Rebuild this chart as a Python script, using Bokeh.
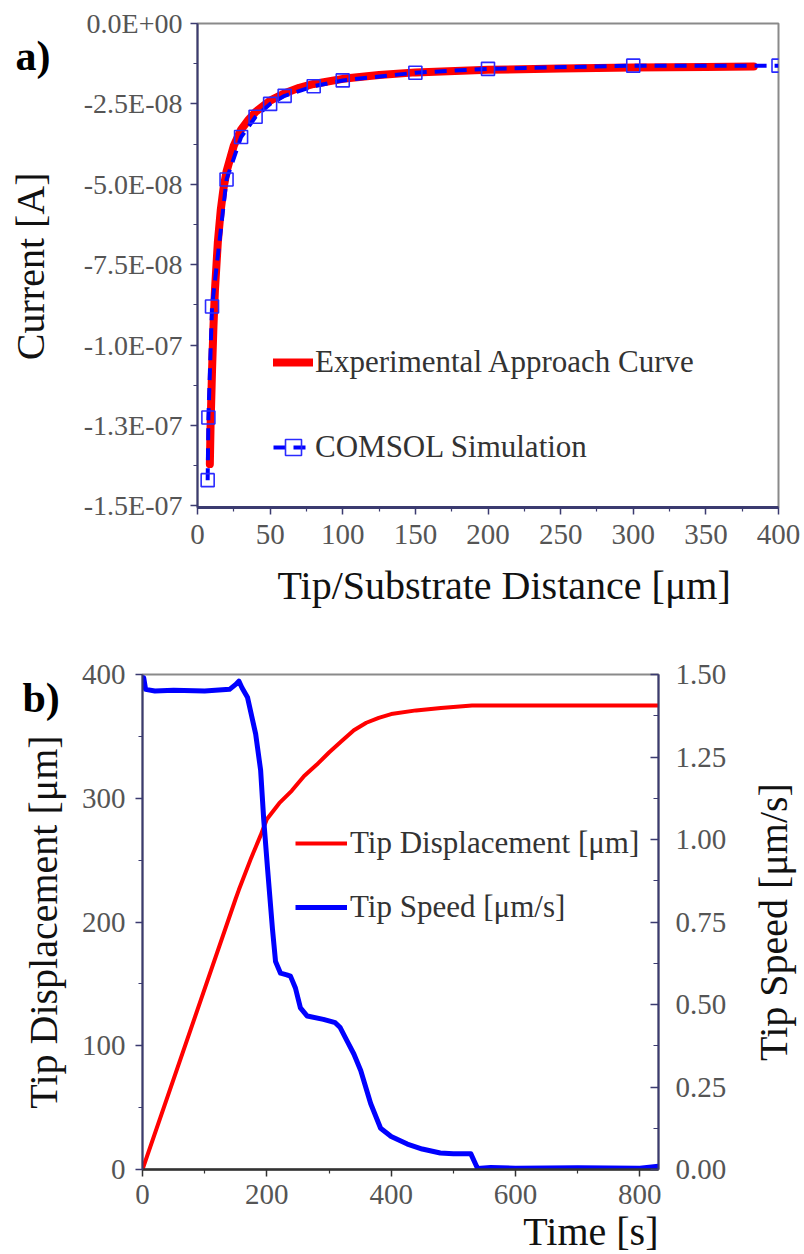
import math
from bokeh.plotting import figure
from bokeh.layouts import column, row
from bokeh.models import (Range1d, LinearAxis, FixedTicker, CustomJSTickFormatter,
                          NumeralTickFormatter, Legend, LegendItem, Label, Title)
from bokeh.embed import file_html
from bokeh.resources import INLINE

# ---------------- data: panel a ----------------
exp_x = [8.5, 9, 10, 11, 12, 14, 16, 18, 20, 25, 30, 35, 40, 50, 60, 70, 80, 100,
         125, 150, 200, 250, 300, 350, 383]
exp_y = [-13.7e-8, -12.5e-8, -10.8e-8, -9.4e-8, -8.3e-8, -6.8e-8, -5.8e-8, -5.1e-8,
         -4.6e-8, -3.8e-8, -3.3e-8, -3.0e-8, -2.75e-8, -2.4e-8, -2.17e-8, -2.0e-8,
         -1.88e-8, -1.72e-8, -1.6e-8, -1.52e-8, -1.44e-8, -1.4e-8, -1.37e-8,
         -1.35e-8, -1.34e-8]
sim_x = [7, 7.5, 10, 20, 30, 40, 50, 60, 80, 100, 150, 200, 300, 400]
sim_y = [-14.2e-8, -12.25e-8, -8.8e-8, -4.85e-8, -3.53e-8, -2.9e-8, -2.5e-8,
         -2.25e-8, -1.95e-8, -1.77e-8, -1.53e-8, -1.41e-8, -1.31e-8, -1.31e-8]
a_yticks = [0, -2.5e-8, -5e-8, -7.5e-8, -1e-7, -1.25e-7, -1.5e-7]
a_ylabels = ["0.0E+00", "-2.5E-08", "-5.0E-08", "-7.5E-08", "-1.0E-07", "-1.3E-07", "-1.5E-07"]
a_xticks = [0, 50, 100, 150, 200, 250, 300, 350, 400]

# ---------------- data: panel b ----------------
disp_t = [0, 150, 155, 175, 190, 200, 220, 240, 260, 280, 300, 320, 340, 360, 380,
          400, 440, 480, 530, 830]
disp_d = [0, 219, 226, 252, 270, 283, 296, 306, 318, 327, 337, 346, 355, 361, 365,
          368, 371, 373, 375, 375]
speed_t = [0, 2, 5, 20, 50, 100, 140, 150, 155, 160, 169, 182, 190, 195, 201, 209,
           214, 222, 232, 238, 246, 254, 265, 291, 310, 318, 329, 340, 351, 367, 383,
           400, 426, 450, 479, 500, 528, 539, 560, 600, 700, 800, 830]
speed_v = [1.47, 1.49, 1.455, 1.45, 1.452, 1.45, 1.455, 1.47, 1.48, 1.46, 1.43, 1.32,
           1.21, 1.06, 0.915, 0.73, 0.63, 0.595, 0.59, 0.586, 0.55, 0.49, 0.465, 0.455,
           0.445, 0.43, 0.39, 0.35, 0.30, 0.20, 0.125, 0.1, 0.077, 0.062, 0.05, 0.048,
           0.048, 0.003, 0.006, 0.004, 0.005, 0.004, 0.01]
b_left_ticks = [0, 100, 200, 300, 400]
b_right_ticks = [0, 0.25, 0.5, 0.75, 1.0, 1.25, 1.5]
b_xticks = [0, 200, 400, 600, 800]

FONT = "Liberation Serif"
TICK_COLOR = "#555555"
AXIS_NAVY = "#3b3b70"


def style_axis(ax, color, width, tick_in=0, tick_out=7, minor_in=0, minor_out=4):
    ax.axis_line_color = color
    ax.axis_line_width = width
    ax.major_tick_line_color = color
    ax.minor_tick_line_color = color
    ax.major_tick_line_width = 1.5
    ax.minor_tick_line_width = 1.2
    ax.major_tick_in = tick_in
    ax.major_tick_out = tick_out
    ax.minor_tick_in = minor_in
    ax.minor_tick_out = minor_out
    ax.major_label_text_font = FONT
    ax.major_label_text_font_size = "29px"
    ax.major_label_text_color = TICK_COLOR
    ax.axis_label_text_font = FONT
    ax.axis_label_text_font_size = "40px"
    ax.axis_label_text_font_style = "normal"
    ax.axis_label_text_color = "#111111"


def side_strip(width, height, y_range, top, bottom):
    s = figure(width=width, height=height, output_backend="svg", toolbar_location=None,
               x_range=Range1d(0, width), y_range=y_range, x_axis_type=None,
               y_axis_type=None, min_border_left=0, min_border_right=0,
               min_border_top=top, min_border_bottom=bottom)
    s.grid.visible = False
    s.outline_line_color = None
    s.background_fill_alpha = 0
    s.border_fill_alpha = 0
    return s


# ================= panel a =================
p1 = figure(width=744, height=630, output_backend="svg", toolbar_location=None,
            x_range=Range1d(0, 400), y_range=Range1d(-1.505e-7, 0),
            min_border_left=137, min_border_right=26, min_border_top=23,
            min_border_bottom=123)
p1.grid.visible = False
p1.outline_line_color = "#8a8a8a"
p1.outline_line_width = 2
p1.background_fill_color = "white"

r_exp = p1.line(exp_x, exp_y, line_color="#ff0000", line_width=8, line_cap="round")
r_sim_line = p1.line(sim_x, sim_y, line_color="#0000ff", line_width=4, line_dash="12 8")
r_sim_pts = p1.scatter(sim_x, sim_y, marker="square", size=13, fill_alpha=0,
                       line_color="#2a2aff", line_width=1.6)

p1.yaxis.ticker = FixedTicker(ticks=a_yticks,
                              minor_ticks=[-1.25e-8, -3.75e-8, -6.25e-8, -8.75e-8,
                                           -1.125e-7, -1.375e-7])
p1.yaxis.formatter = CustomJSTickFormatter(args=dict(tvals=a_yticks, tlabels=a_ylabels), code="""
let best = 0;
for (let i = 0; i < tvals.length; i++) {
  if (Math.abs(tvals[i] - tick) < Math.abs(tvals[best] - tick)) best = i;
}
return tlabels[best];
""")
p1.xaxis.ticker = FixedTicker(ticks=a_xticks, minor_ticks=[25, 75, 125, 175, 225, 275, 325, 375])
style_axis(p1.yaxis[0], AXIS_NAVY, 2)
style_axis(p1.xaxis[0], AXIS_NAVY, 3)
p1.yaxis.major_label_text_font_size = "28px"
p1.yaxis.major_label_standoff = 8
p1.xaxis.major_label_standoff = 10

p1.add_layout(Title(text="Tip/Substrate Distance [μm]", align="left", offset=80,
                    text_font=FONT, text_font_size="40px", text_font_style="normal",
                    text_color="#111111", standoff=28), "below")

leg1 = Legend(items=[LegendItem(label="Experimental Approach Curve", renderers=[r_exp]),
                     LegendItem(label="COMSOL Simulation", renderers=[r_sim_line, r_sim_pts])],
              location=(76, 40), padding=0, margin=0, border_line_alpha=0,
              background_fill_alpha=0, glyph_width=40, glyph_height=40, label_height=40,
              label_standoff=2, spacing=45, label_text_font=FONT,
              label_text_font_size="31px", label_text_color="#333333")
p1.add_layout(leg1)

# left strip of panel a: panel tag and y-axis title
pa = side_strip(60, 630, p1.y_range, 23, 123)
pa.add_layout(Label(x=15, y=-1.0e-8, text="a)", text_font=FONT, text_font_size="42px",
                    text_font_style="bold", text_color="#000000", text_baseline="middle"))
pa.add_layout(Label(x=30, y=-7.55e-8, text="Current [A]", angle=math.pi / 2,
                    text_font=FONT, text_font_size="40px", text_color="#111111",
                    text_align="center", text_baseline="middle"))

# ================= panel b =================
p2 = figure(width=670, height=624, output_backend="svg", toolbar_location=None,
            x_range=Range1d(0, 830), y_range=Range1d(0, 400),
            min_border_left=72, min_border_right=82, min_border_top=44,
            min_border_bottom=85)
p2.grid.visible = False
p2.outline_line_color = "#8a8a8a"
p2.outline_line_width = 2
p2.extra_y_ranges = {"speed": Range1d(0, 1.5)}

r_disp = p2.line(disp_t, disp_d, line_color="#ff0000", line_width=4)
r_speed = p2.line(speed_t, speed_v, line_color="#0000ff", line_width=5,
                  y_range_name="speed", line_join="round")

p2.yaxis.ticker = FixedTicker(ticks=b_left_ticks, minor_ticks=[50, 150, 250, 350])
p2.xaxis.ticker = FixedTicker(ticks=b_xticks, minor_ticks=[100, 300, 500, 700])
style_axis(p2.yaxis[0], AXIS_NAVY, 2)
style_axis(p2.xaxis[0], "#333333", 2.5)
p2.yaxis.major_label_standoff = 10
p2.xaxis.major_label_standoff = 8

rax = LinearAxis(y_range_name="speed",
                 ticker=FixedTicker(ticks=b_right_ticks,
                                    minor_ticks=[0.125, 0.375, 0.625, 0.875, 1.125, 1.375]),
                 formatter=NumeralTickFormatter(format="0.00"))
style_axis(rax, AXIS_NAVY, 2, tick_in=8, tick_out=0, minor_in=5, minor_out=0)
rax.major_label_standoff = 17
p2.add_layout(rax, "right")

p2.add_layout(Title(text="Time [s]", align="right", text_font=FONT, text_font_size="40px",
                    text_font_style="normal", text_color="#111111", standoff=0),
              "below")

leg2 = Legend(items=[LegendItem(label="Tip Displacement [μm]", renderers=[r_disp]),
                     LegendItem(label="Tip Speed [μm/s]", renderers=[r_speed])],
              location=(153, 242), padding=0, margin=0, border_line_alpha=0,
              background_fill_alpha=0, glyph_width=52, glyph_height=40, label_height=40,
              label_standoff=3, spacing=24, label_text_font=FONT,
              label_text_font_size="31px", label_text_color="#333333")
p2.add_layout(leg2)

# left strip of panel b: panel tag and left y-axis title
pb = side_strip(70, 624, p2.y_range, 44, 85)
pb.add_layout(Label(x=22, y=381, text="b)", text_font=FONT, text_font_size="42px",
                    text_font_style="bold", text_color="#000000", text_baseline="middle"))
pb.add_layout(Label(x=43, y=200, text="Tip Displacement [μm]", angle=math.pi / 2,
                    text_font=FONT, text_font_size="40px", text_color="#111111",
                    text_align="center", text_baseline="middle"))

# right strip of panel b: right y-axis title
pr = side_strip(64, 624, p2.y_range, 44, 85)
pr.add_layout(Label(x=33, y=200, text="Tip Speed [μm/s]", angle=math.pi / 2,
                    text_font=FONT, text_font_size="40px", text_color="#111111",
                    text_align="center", text_baseline="middle"))

layout = column(row(pa, p1), row(pb, p2, pr), spacing=0)
open("out.html", "w").write(file_html(layout, INLINE))
